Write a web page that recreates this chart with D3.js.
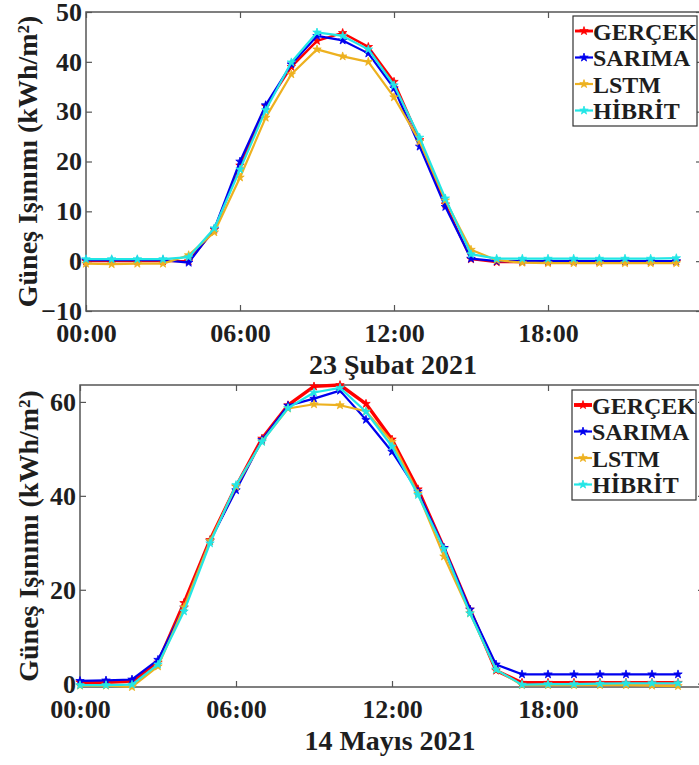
<!DOCTYPE html>
<html>
<head>
<meta charset="utf-8">
<script src="https://cdn.jsdelivr.net/npm/d3@7"></script>
<style>
  html, body { margin: 0; padding: 0; background: #fff; }
  svg { display: block; }
  text { font-family: "Liberation Serif", "Times New Roman", serif; font-weight: bold; fill: #1e1e1e; }
</style>
</head>
<body>
<svg id="chart" width="699" height="765"></svg>
<script>
// ---------- data ----------
const hours = [0,1,2,3,4,5,6,7,8,9,10,11,12,13,14,15,16,17,18,19,20,21,22,23];
const seriesNames = ["GERÇEK", "SARIMA", "LSTM", "HİBRİT"];
const seriesColors = ["#ff0000", "#0000ee", "#EDB120", "#22e6e6"];

const xTickValues = [0, 6, 12, 18];
const xTickLabels = ["00:00", "06:00", "12:00", "18:00"];

// 23 Şubat 2021
const gercekFeb = [0.0,0.0,0.0,0.0,0.0,6.3,19.2,31.1,39.0,44.2,45.8,43.0,36.0,24.3,11.4,0.4,-0.2,-0.2,-0.2,-0.1,-0.1,-0.1,-0.1,-0.1];
const sarimaFeb = [0.2,0.2,0.2,0.2,-0.3,6.5,20.0,31.3,39.5,45.2,44.3,41.7,34.7,23.0,10.9,0.5,0.0,0.0,0.0,0.0,0.0,0.0,0.0,0.0];
const lstmFeb   = [-0.5,-0.6,-0.5,-0.5,1.2,5.8,16.8,28.8,37.5,42.5,41.1,40.0,32.9,24.0,12.2,2.3,0.2,-0.3,-0.4,-0.4,-0.4,-0.4,-0.4,-0.4];
const hibritFeb = [0.4,0.4,0.4,0.4,0.8,6.6,18.4,30.3,39.9,45.9,45.2,42.5,35.3,24.8,12.6,1.4,0.5,0.5,0.5,0.5,0.5,0.5,0.5,0.6];
const yTicksFeb = [-10, 0, 10, 20, 30, 40, 50];

// 14 Mayıs 2021
const gercekMay = [0.3,0.3,0.5,4.5,17.2,30.6,42.0,52.2,59.3,63.3,63.6,59.6,52.0,41.4,28.9,15.8,2.8,0.2,0.2,0.2,0.2,0.2,0.2,0.2];
const sarimaMay = [0.6,0.7,0.9,5.1,16.2,30.4,41.2,51.9,59.2,60.7,62.4,56.2,49.4,40.9,28.9,15.8,4.1,2.0,2.0,2.0,2.0,2.0,2.0,2.0];
const lstmMay   = [-0.4,-0.4,-0.7,3.7,16.3,30.4,42.0,51.6,58.6,59.5,59.3,58.0,51.5,40.5,27.1,15.0,3.0,-0.3,-0.3,-0.3,-0.3,-0.3,-0.4,-0.5];
const hibritMay = [-0.3,-0.3,-0.2,4.1,15.4,29.9,42.3,51.5,58.7,62.0,63.0,57.9,50.5,40.2,28.7,15.0,3.0,-0.2,-0.1,-0.1,0.0,0.1,0.1,0.1];
const yTicksMay = [0, 20, 40, 60];

const yLabel = "Güneş Işınımı (kWh/m²)";

// ---------- drawing ----------
const svg = d3.select("#chart");

function panel(opts) {
  const { left, right, top, bottom, xDomain, yDomain, yTicks, series, title, redWidth } = opts;
  const g = svg.append("g");
  const x = d3.scaleLinear().domain(xDomain).range([left, right]);
  const y = d3.scaleLinear().domain(yDomain).range([bottom, top]);

  // box
  g.append("rect")
    .attr("x", left).attr("y", top)
    .attr("width", right - left).attr("height", bottom - top)
    .attr("fill", "none").attr("stroke", "#555").attr("stroke-width", 1.5);

  const tickStyle = sel => {
    sel.select(".domain").remove();
    sel.selectAll(".tick line").attr("stroke", "#555").attr("stroke-width", 1.2);
    sel.selectAll(".tick text").attr("fill", "#1e1e1e")
      .style("font-family", '"Liberation Serif", "Times New Roman", serif')
      .style("font-weight", "bold").style("font-size", "26px");
  };

  g.append("g").attr("transform", `translate(0,${bottom})`)
    .call(d3.axisBottom(x).tickValues(xTickValues)
      .tickFormat((d, i) => xTickLabels[i]).tickSizeInner(-6).tickSizeOuter(0).tickPadding(13))
    .call(tickStyle);
  g.append("g").attr("transform", `translate(0,${top})`)
    .call(d3.axisTop(x).tickValues(xTickValues).tickFormat("").tickSizeInner(-6).tickSizeOuter(0))
    .call(tickStyle);
  g.append("g").attr("transform", `translate(${left},0)`)
    .call(d3.axisLeft(y).tickValues(yTicks).tickFormat(d3.format("d")).tickSizeInner(-6).tickSizeOuter(0).tickPadding(4))
    .call(tickStyle);
  g.append("g").attr("transform", `translate(${right},0)`)
    .call(d3.axisRight(y).tickValues(yTicks).tickFormat("").tickSizeInner(-6).tickSizeOuter(0))
    .call(tickStyle);

  const line = d3.line().x((d, i) => x(hours[i])).y(d => y(d));
  const star = d3.symbol().type(d3.symbolStar).size(22);

  series.forEach((vals, si) => {
    const col = seriesColors[si];
    const w = si === 0 ? redWidth : 2.2;
    g.append("path").datum(vals)
      .attr("d", line).attr("fill", "none")
      .attr("stroke", col).attr("stroke-width", w).attr("stroke-linejoin", "round");
    g.selectAll(null).data(vals).enter().append("path")
      .attr("d", star)
      .attr("transform", (d, i) => `translate(${x(hours[i])},${y(d)})`)
      .attr("fill", col).attr("stroke", col).attr("stroke-width", 0.8);
  });

  // x label
  g.append("text")
    .attr("x", (left + 700) / 2)
    .attr("y", bottom + 63)
    .attr("text-anchor", "middle")
    .style("font-size", "28px")
    .text(title);

  // y label
  g.append("text")
    .attr("transform", `translate(${opts.yLabelX},${(top + bottom) / 2}) rotate(-90)`)
    .attr("text-anchor", "middle")
    .style("font-size", "28px")
    .text(yLabel);

  // legend
  const lg = g.append("g");
  const lx = opts.legendX, ly = opts.legendY;
  lg.append("rect").attr("x", lx).attr("y", ly).attr("width", 124).attr("height", 110)
    .attr("fill", "#fff").attr("stroke", "#333").attr("stroke-width", 1.2);
  seriesNames.forEach((name, i) => {
    const cy = ly + 15 + i * 26.5;
    const col = seriesColors[i];
    lg.append("line").attr("x1", lx + 2).attr("x2", lx + 20).attr("y1", cy).attr("y2", cy)
      .attr("stroke", col).attr("stroke-width", i === 0 ? redWidth + 0.5 : 2.2);
    lg.append("path").attr("d", star).attr("transform", `translate(${lx + 11},${cy})`)
      .attr("fill", col).attr("stroke", col).attr("stroke-width", 0.8);
    lg.append("text").attr("x", lx + 20).attr("y", cy + 8.5)
      .style("font-size", "24px").text(name);
  });
}

panel({
  left: 86, right: 702, top: 12, bottom: 311,
  xDomain: [0, 24], yDomain: [-10, 50], yTicks: yTicksFeb,
  series: [gercekFeb, sarimaFeb, lstmFeb, hibritFeb],
  title: "23 Şubat 2021", redWidth: 2.4,
  yLabelX: 37, legendX: 573, legendY: 16
});

panel({
  left: 80, right: 704, top: 385, bottom: 687,
  xDomain: [0, 24], yDomain: [-0.7, 63.6], yTicks: yTicksMay,
  series: [gercekMay, sarimaMay, lstmMay, hibritMay],
  title: "14 Mayıs 2021", redWidth: 3.4,
  yLabelX: 38, legendX: 572, legendY: 390
});
</script>
</body>
</html>
